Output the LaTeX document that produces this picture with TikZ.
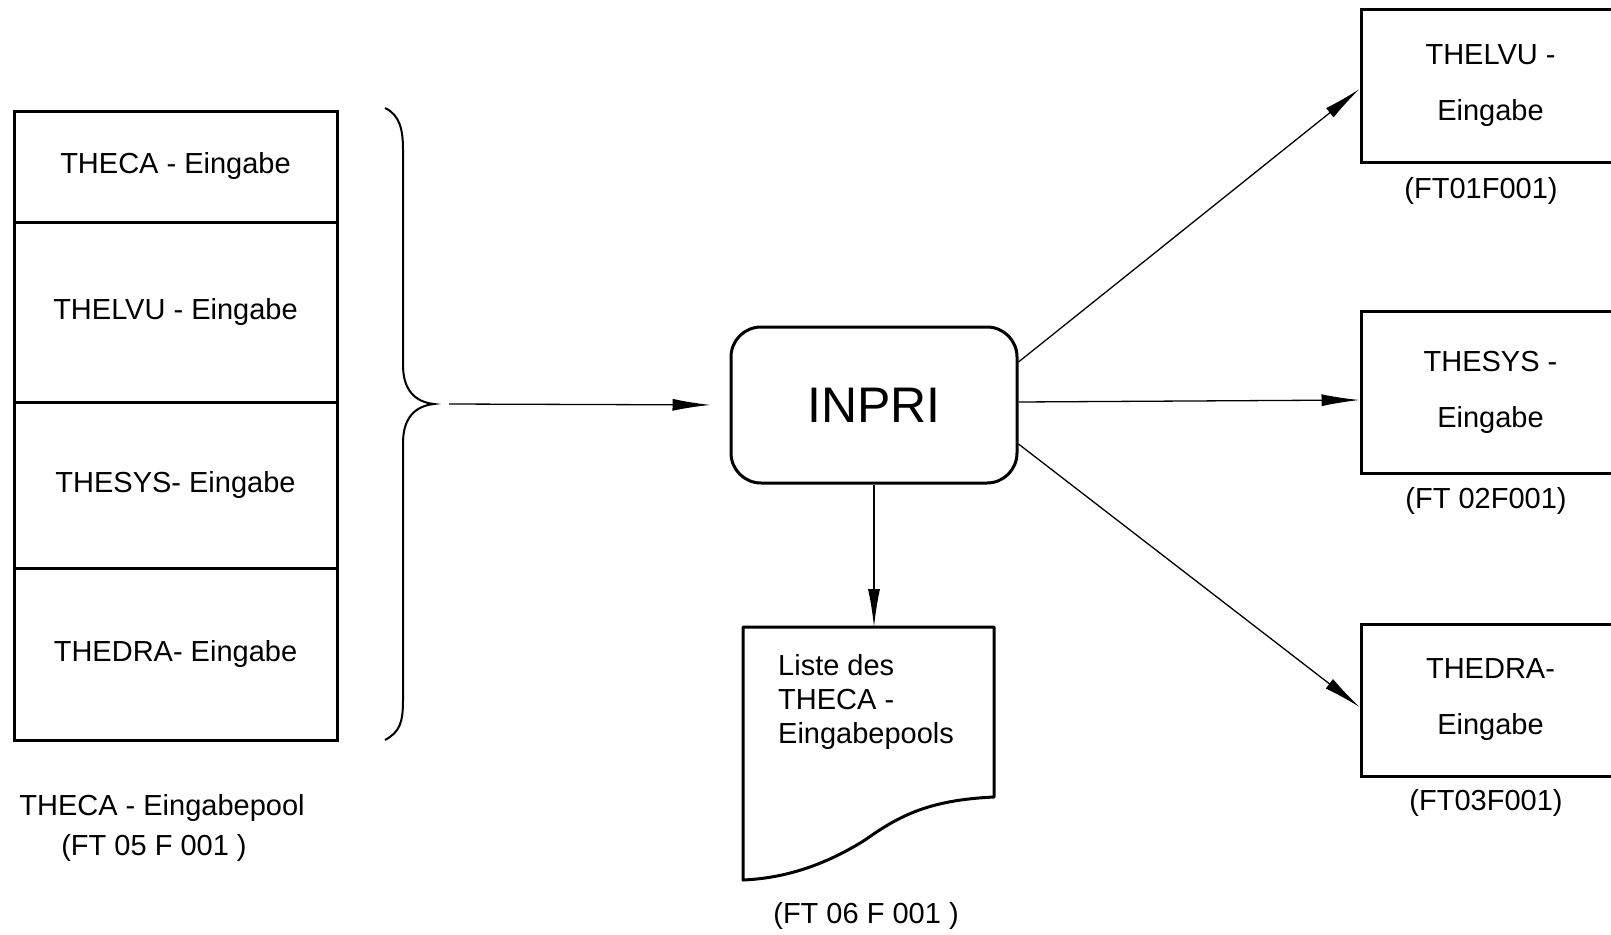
\documentclass[tikz,border=0pt]{standalone}
\usepackage{fontspec}
\setmainfont{Liberation Sans}
\usetikzlibrary{arrows.meta}
\tikzset{
  cell/.style={draw, line width=3pt, minimum width=323pt, inner sep=0pt, font=\fontsize{29}{34}\selectfont},
  outbox/.style={draw, line width=3pt, minimum width=259pt, inner sep=0pt, align=center, font=\fontsize{29}{56}\selectfont},
  lbl/.style={inner sep=0pt, font=\fontsize{29}{34}\selectfont},
  conn/.style={line width=1.3pt, -{Latex[length=38pt,width=12pt]}},
  heavy/.style={line width=3pt}
}
\begin{document}
\begin{tikzpicture}[x=1pt,y=-1pt]
\useasboundingbox (0,0) rectangle (1611,934);
\fill[white] (0,0) rectangle (1611,934);
\clip (0,0) rectangle (1611,934);
% left stack
\node[cell, minimum height=111pt] (c1) at (175.5,166.5) {\raisebox{-3pt}{THECA - Eingabe}};
\node[cell, minimum height=180pt] (c2) at (175.5,312) {\raisebox{-3pt}{THELVU - Eingabe}};
\node[cell, minimum height=166pt] (c3) at (175.5,485) {\raisebox{-3pt}{THESYS- Eingabe}};
\node[cell, minimum height=172pt] (c4) at (175.5,654) {\raisebox{-3pt}{THEDRA- Eingabe}};
\node[lbl] (pool) at (162,808) {THECA - Eingabepool};
\node[lbl] (poolft) at (154,848) {(FT 05 F 001 )};
% brace
\draw[line width=2pt] (385,108) .. controls (400,115) and (403,130) .. (403,150) -- (403,365)
  .. controls (403,390) and (415,402) .. (434,404)
  .. controls (415,406) and (403,418) .. (403,443) -- (403,700)
  .. controls (403,722) and (400,732) .. (385,740);
\coordinate (bracetip) at (449,404);
% INPRI
\node[draw, heavy, rounded corners=30pt, minimum width=286pt, minimum height=156pt, inner sep=0pt,
  font=\fontsize{50}{60}\selectfont] (inpri) at (874,405) {INPRI};
\draw[conn, shorten >=19pt] (bracetip) -- (inpri.west);
% document
\coordinate (doctop) at (874,627);
\draw[heavy, line join=round] (743,627) -- (994,627) -- (994,797)
  .. controls (930,800) and (900,815) .. (865,840)
  .. controls (830,862) and (790,878) .. (743,880) -- cycle;
\node[lbl, anchor=north west, align=left] (doctext) at (778,654) {Liste des\\THECA -\\Eingabepools};
\node[lbl] (docft) at (866,916) {(FT 06 F 001 )};
\draw[conn] (inpri.south) -- (doctop);
% right boxes
\node[outbox, minimum height=152pt] (o1) at (1490.5,86) {THELVU -\\Eingabe};
\node[outbox, minimum height=162pt] (o2) at (1490.5,392) {THESYS -\\Eingabe};
\node[outbox, minimum height=152pt] (o3) at (1490.5,700) {THEDRA-\\Eingabe};
\node[lbl] (o1ft) at (1481,191) {(FT01F001)};
\node[lbl] (o2ft) at (1486,501) {(FT 02F001)};
\node[lbl] (o3ft) at (1486,803) {(FT03F001)};
\draw[conn] ([yshift=43pt]inpri.east) -- ([yshift=-3pt]o1.west);
\draw[conn] ([yshift=3pt]inpri.east) -- ([yshift=-8pt]o2.west);
\draw[conn] ([yshift=-39pt]inpri.east) -- ([yshift=-7pt]o3.west);
\end{tikzpicture}
\end{document}
